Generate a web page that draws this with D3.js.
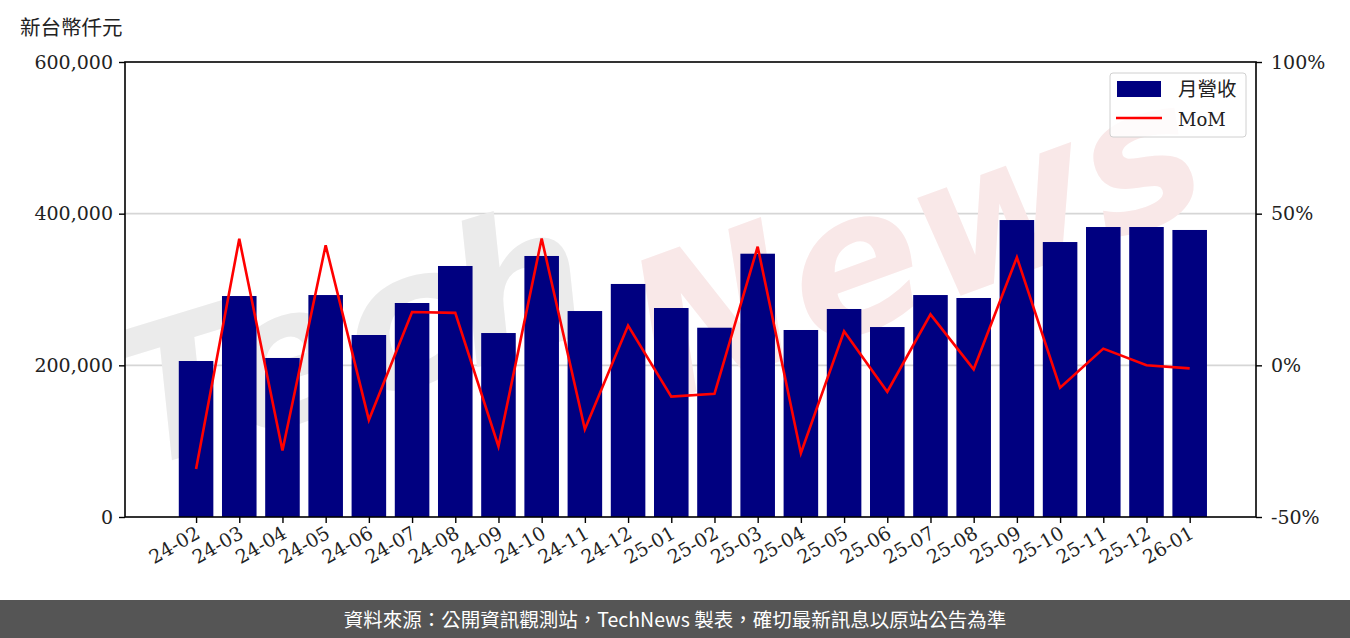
<!DOCTYPE html>
<html><head><meta charset="utf-8">
<script src="https://cdn.jsdelivr.net/npm/d3@7/dist/d3.min.js"></script>
<style>
html,body{margin:0;padding:0;background:#fff;}
svg{display:block;}
</style></head>
<body>
<svg id="chart" width="1350" height="638"></svg>
<script>
const categories = ["24-02","24-03","24-04","24-05","24-06","24-07","24-08","24-09","24-10","24-11","24-12","25-01",
  "25-02","25-03","25-04","25-05","25-06","25-07","25-08","25-09","25-10","25-11","25-12","26-01"];
const revenue = [205700,291400,209700,292700,240000,282200,331000,242600,344200,271600,307300,275600,
  249600,347200,246600,274300,250500,292700,288800,391600,362600,382400,382400,378500];
const mom = [-34.2,41.7,-28.1,39.6,-18.0,17.6,17.3,-26.7,41.8,-21.1,13.1,-10.3,
  -9.4,39.1,-29.0,11.2,-8.7,16.8,-1.3,35.6,-7.4,5.5,0.0,-1.0];
const leftTicks = [0,200000,400000,600000];
const rightTicks = [-50,0,50,100];
const legendLabels = ["月營收","MoM"];
const unitLabel = "新台幣仟元";
const footerText = "資料來源：公開資訊觀測站，TechNews 製表，確切最新訊息以原站公告為準";

const W = 1350, H = 638;
const L = 125, R = 1256, T = 62, B = 517;
const svg = d3.select("#chart");
const serif = "'DejaVu Serif', 'Liberation Serif', serif";
const cjk = "'Noto Sans CJK TC', 'Noto Sans CJK SC', sans-serif";

const x = d3.scaleLinear().domain([-1.645, 24.535]).range([L, R]);
const step = x(1) - x(0);
const barW = step * 0.8;
const yL = d3.scaleLinear().domain([0, 600000]).range([B, T]);
const yR = d3.scaleLinear().domain([-50, 100]).range([B, T]);

svg.append("defs").append("clipPath").attr("id", "plotclip")
  .append("rect").attr("x", L).attr("y", T).attr("width", R - L).attr("height", B - T);

// gridlines (right axis)
svg.append("g").selectAll("line").data(rightTicks.filter(d => d > -50 && d < 100)).join("line")
  .attr("x1", L).attr("x2", R).attr("y1", d => yR(d)).attr("y2", d => yR(d))
  .attr("stroke", "#d6d6d6").attr("stroke-width", 1.6);

// watermark
const wm = svg.append("g").attr("pointer-events", "none").attr("clip-path", "url(#plotclip)");
wm.append("text").attr("transform", "translate(140,470) rotate(-17)")
  .attr("font-family", "'DejaVu Sans', sans-serif").attr("font-style", "italic").attr("font-weight", "bold")
  .attr("font-size", 190).attr("fill", "#ebebeb").text("Tech");
wm.append("text").attr("transform", "translate(660,405) rotate(-20)")
  .attr("font-family", "'DejaVu Sans', sans-serif").attr("font-style", "italic").attr("font-weight", "bold")
  .attr("font-size", 195).attr("fill", "#f9e8e8").text("News");

// bars
svg.append("g").selectAll("rect").data(revenue).join("rect")
  .attr("x", (d, i) => x(i) - barW / 2).attr("width", barW)
  .attr("y", d => yL(d)).attr("height", d => B - yL(d))
  .attr("fill", "#000080");

// line
const line = d3.line().x((d, i) => x(i)).y(d => yR(d));
svg.append("path").datum(mom).attr("d", line)
  .attr("fill", "none").attr("stroke", "#ff0000").attr("stroke-width", 2.6).attr("stroke-linejoin", "miter");

// frame
svg.append("rect").attr("x", L).attr("y", T).attr("width", R - L).attr("height", B - T)
  .attr("fill", "none").attr("stroke", "#000").attr("stroke-width", 1.6);

// left axis
const gL = svg.append("g").attr("transform", `translate(${L},0)`)
  .call(d3.axisLeft(yL).tickValues(leftTicks).tickFormat(d3.format(",")).tickSize(6).tickPadding(6));
gL.select(".domain").remove();
gL.selectAll("line").attr("stroke", "#000").attr("stroke-width", 1.4);
gL.selectAll("text").attr("font-family", serif).attr("font-size", 19).attr("fill", "#222");

// right axis
const gR = svg.append("g").attr("transform", `translate(${R},0)`)
  .call(d3.axisRight(yR).tickValues(rightTicks).tickFormat(d => d + "%").tickSize(6).tickPadding(9));
gR.select(".domain").remove();
gR.selectAll("line").attr("stroke", "#000").attr("stroke-width", 1.4);
gR.selectAll("text").attr("font-family", serif).attr("font-size", 19).attr("fill", "#222");

// bottom axis
const gB = svg.append("g").attr("transform", `translate(0,${B})`)
  .call(d3.axisBottom(x).tickValues(d3.range(categories.length)).tickFormat(i => categories[i]).tickSize(6));
gB.select(".domain").remove();
gB.selectAll("line").attr("stroke", "#000").attr("stroke-width", 1.4);
gB.selectAll("text")
  .attr("font-family", serif).attr("font-size", 19).attr("fill", "#222")
  .attr("text-anchor", "end").attr("dy", null).attr("y", null)
  .attr("transform", "translate(5,20) rotate(-30)");

// unit label
svg.append("text").attr("x", 20).attr("y", 35).attr("font-family", cjk).attr("font-size", 20.5)
  .attr("fill", "#222").text(unitLabel);

// legend
const lg = svg.append("g");
lg.append("rect").attr("x", 1110).attr("y", 73).attr("width", 136).attr("height", 64).attr("rx", 3)
  .attr("fill", "#fff").attr("fill-opacity", 0.8).attr("stroke", "#d0d0d0").attr("stroke-width", 1);
lg.append("rect").attr("x", 1117).attr("y", 81).attr("width", 44).attr("height", 16).attr("fill", "#000080");
lg.append("line").attr("x1", 1116).attr("x2", 1162).attr("y1", 118).attr("y2", 118)
  .attr("stroke", "#ff0000").attr("stroke-width", 2.6);
lg.append("text").attr("x", 1178).attr("y", 96).attr("font-family", cjk).attr("font-size", 19.5)
  .attr("fill", "#222").text(legendLabels[0]);
lg.append("text").attr("x", 1178).attr("y", 126).attr("font-family", serif).attr("font-size", 18)
  .attr("fill", "#222").text(legendLabels[1]);

// footer
svg.append("rect").attr("x", 0).attr("y", 600).attr("width", W).attr("height", 38).attr("fill", "#555555");
svg.append("text").attr("x", 675).attr("y", 627).attr("text-anchor", "middle")
  .attr("font-family", cjk).attr("font-size", 19.5).attr("fill", "#fff").text(footerText);
</script>
</body></html>
